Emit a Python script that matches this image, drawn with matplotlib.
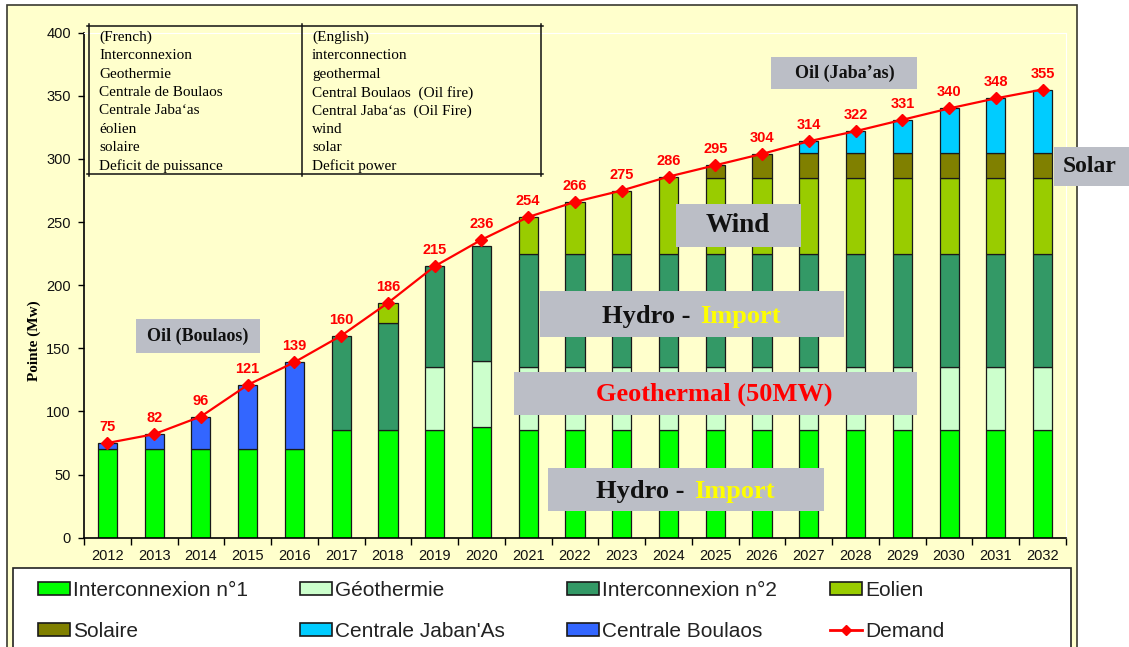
import numpy as np
import matplotlib
matplotlib.use("Agg")
import matplotlib.pyplot as plt
from matplotlib.patches import Rectangle, Patch
from matplotlib.lines import Line2D

plt.rcParams['font.family'] = 'Liberation Sans'

years = [str(y) for y in range(2012, 2033)]
interco1 = [70, 70, 70, 70, 70, 85, 85, 85, 88, 85, 85, 85, 85, 85, 85, 85, 85, 85, 85, 85, 85]
boulaos = [5, 12, 26, 51, 69, 0, 0, 0, 0, 0, 0, 0, 0, 0, 0, 0, 0, 0, 0, 0, 0]
geotherm = [0, 0, 0, 0, 0, 0, 0, 50, 52, 50, 50, 50, 50, 50, 50, 50, 50, 50, 50, 50, 50]
interco2 = [0, 0, 0, 0, 0, 75, 85, 80, 91, 90, 90, 90, 90, 90, 90, 90, 90, 90, 90, 90, 90]
eolien = [0, 0, 0, 0, 0, 0, 16, 0, 0, 29, 41, 50, 61, 60, 60, 60, 60, 60, 60, 60, 60]
solaire = [0, 0, 0, 0, 0, 0, 0, 0, 0, 0, 0, 0, 0, 10, 19, 20, 20, 20, 20, 20, 20]
jabanas = [0, 0, 0, 0, 0, 0, 0, 0, 0, 0, 0, 0, 0, 0, 0, 9, 17, 26, 35, 43, 50]
demand = [75, 82, 96, 121, 139, 160, 186, 215, 236, 254, 266, 275, 286, 295, 304,
          314, 322, 331, 340, 348, 355]

# stacking order, bottom to top
series = [
    ('Interconnexion n°1', interco1, '#00FF00'),
    ('Centrale Boulaos', boulaos, '#3366FF'),
    ('Géothermie', geotherm, '#CCFFCC'),
    ('Interconnexion n°2', interco2, '#339966'),
    ('Eolien', eolien, '#99CC00'),
    ('Solaire', solaire, '#808000'),
    ('Centrale Jaban\'As', jabanas, '#00CCFF'),
]

W, H = 1129, 647
YELLOW = '#FFFFCC'
GREY = '#BBBEC6'
SERIF = 'Liberation Serif'


def fx(px):
    return px / W


def fy(py):
    return 1 - py / H


fig = plt.figure(figsize=(W / 100, H / 100), dpi=100, facecolor='white')

# outer yellow frame and white legend panel
fig.add_artist(Rectangle((fx(7), fy(700)), fx(1077) - fx(7), (700 - 5) / H,
                         facecolor=YELLOW, edgecolor='#3a3a30', lw=1.2, zorder=-2))
fig.add_artist(Rectangle((fx(13), fy(700)), fx(1071) - fx(13), (700 - 568) / H,
                         facecolor='white', edgecolor='#222222', lw=1.2, zorder=-1))

ax = fig.add_axes([fx(84), fy(537.7), fx(1066) - fx(84), (537.7 - 32.7) / H])
ax.set_facecolor(YELLOW)

x = np.arange(len(years))
bottom = np.zeros(len(years))
for name, vals, col in series:
    vals = np.array(vals, dtype=float)
    m = vals > 0
    ax.bar(x[m], vals[m], bottom=bottom[m], width=0.41, color=col,
           edgecolor='#1a1a1a', linewidth=0.9, zorder=2)
    bottom += vals

ax.plot(x, demand, color='#FF0000', lw=1.6, marker='D', markersize=6,
        zorder=4)
for i, v in enumerate(demand):
    ax.annotate(str(v), (x[i], v), xytext=(0, 11.5), textcoords='offset points',
                ha='center', va='center', color='#FF0000', fontweight='bold',
                fontsize=10.5, zorder=5)

ax.set_xlim(-0.5, len(years) - 0.5)
ax.set_ylim(0, 400)
ax.set_yticks(range(0, 401, 50))
ax.set_xticks(x)
ax.set_xticklabels(years)
ax.set_xticks(np.arange(-0.5, len(years), 1.0), minor=True)
ax.tick_params(axis='x', which='major', length=0, pad=8, labelsize=10.5, labelcolor='#111111')
ax.tick_params(axis='x', which='minor', length=5, width=1, direction='out')
ax.tick_params(axis='y', length=4.5, width=1, direction='out', pad=5,
               labelsize=10.5, labelcolor='#111111')
for s in ['top', 'right']:
    ax.spines[s].set_color('white')
for s in ['left', 'bottom']:
    ax.spines[s].set_linewidth(1.2)

ax.set_ylabel('Pointe (Mw)', fontfamily=SERIF, fontweight='bold', fontsize=11,
              va='center')
ax.yaxis.set_label_coords(-0.0509, 0.3895)

# translation table in the top-left corner
tx0, tx1, tmid, ty0, ty1 = 89, 541, 302, 25.7, 174
for yy in (ty0, ty1):
    fig.add_artist(Line2D([fx(tx0 - 2), fx(tx1 + 2)], [fy(yy), fy(yy)], color='#111111', lw=1.1, zorder=3))
for xx in (tx0, tmid, tx1):
    fig.add_artist(Line2D([fx(xx), fx(xx)], [fy(ty0 - 2), fy(ty1 + 2)], color='#111111', lw=1.1, zorder=3))
french = ['(French)', 'Interconnexion', 'Geothermie', 'Centrale de Boulaos',
          'Centrale Jaba\u2018as', '\u00e9olien', 'solaire', 'Deficit de puissance']
english = ['(English)', 'interconnection', 'geothermal', 'Central Boulaos  (Oil fire)',
           'Central Jaba\u2018as  (Oil Fire)', 'wind', 'solar', 'Deficit power']
for k, (fr, en) in enumerate(zip(french, english)):
    yy = 37.5 + k * 18.36
    fig.text(fx(99), fy(yy), fr, fontfamily=SERIF, fontsize=11, va='center', ha='left', zorder=3)
    fig.text(fx(312), fy(yy), en, fontfamily=SERIF, fontsize=11, va='center', ha='left', zorder=3)


def grey_box(x0, y0, x1, y1):
    fig.add_artist(Rectangle((fx(x0), fy(y1)), fx(x1) - fx(x0), (y1 - y0) / H,
                             facecolor=GREY, edgecolor='none', zorder=3))


def box_text(xc, yc, s, size, color='#111111', ha='center'):
    fig.text(fx(xc), fy(yc), s, fontfamily=SERIF, fontweight='bold', fontsize=size,
             color=color, ha=ha, va='center', zorder=4)


def hydro_import(x_dash_end, x_import, y_base):
    fig.text(fx(x_dash_end), fy(y_base), 'Hydro -', fontfamily=SERIF, fontweight='bold',
             fontsize=19, color='#111111', ha='right', va='baseline', zorder=4)
    fig.text(fx(x_import), fy(y_base), 'Import', fontfamily=SERIF, fontweight='bold',
             fontsize=19, color='#FFFF00', ha='left', va='baseline', zorder=4)


grey_box(136, 319, 260, 353)
box_text(198, 336, 'Oil (Boulaos)', 13)
grey_box(771, 57, 917, 89)
box_text(845, 73, 'Oil (Jaba\u2019as)', 13)
grey_box(1054, 147, 1140, 186)
box_text(1090, 167, 'Solar', 17)
grey_box(676, 204, 801, 247)
box_text(738, 226, 'Wind', 19.5)
grey_box(540, 291, 844, 337)
hydro_import(690, 700, 323)
grey_box(514, 372, 917, 415)
box_text(714, 394, 'Geothermal (50MW)', 19, color='#FF0000')
grey_box(548, 468, 824, 511)
hydro_import(684, 694, 498)

# legend: four columns of two entries
colors = {n: c for n, _, c in series}


def patch(name):
    return Patch(facecolor=colors[name], edgecolor='#1a1a1a', lw=1.2, label=name)


demand_handle = Line2D([], [], color='#FF0000', lw=2, marker='D', markersize=5, label='Demand')
columns = [
    (38, [patch('Interconnexion n°1'), patch('Solaire')]),
    (300, [patch('Géothermie'), patch("Centrale Jaban'As")]),
    (567, [patch('Interconnexion n°2'), patch('Centrale Boulaos')]),
    (830, [patch('Eolien'), demand_handle]),
]
for xl, hs in columns:
    fig.legend(handles=hs, loc='upper left', bbox_to_anchor=(fx(xl), fy(581)),
               frameon=False, fontsize=15, handlelength=1.55, handleheight=0.55,
               handletextpad=0.15, labelspacing=1.05, borderpad=0, borderaxespad=0,
               labelcolor='#222222')

fig.savefig('out.png', dpi=100, facecolor='white')
